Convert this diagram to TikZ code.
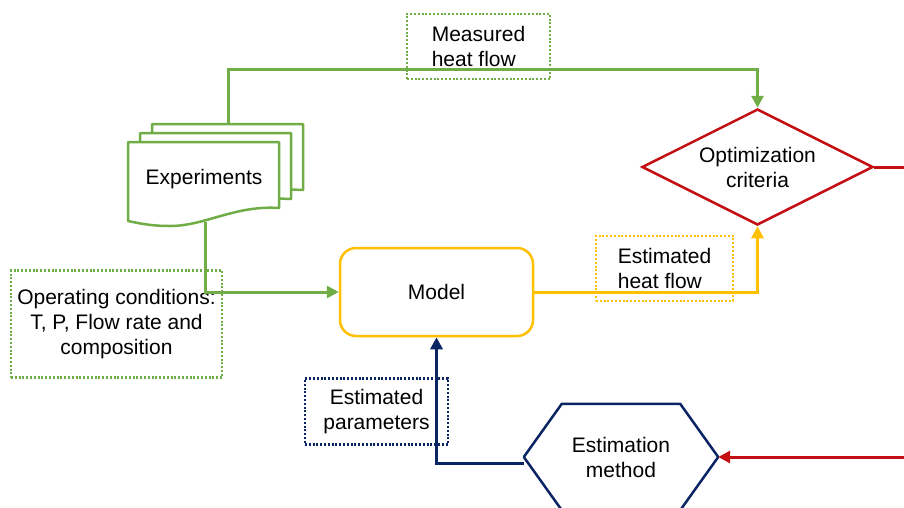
\documentclass[tikz,border=0pt]{standalone}
\usepackage{fontspec}
\setmainfont{Liberation Sans}
\usetikzlibrary{arrows.meta,shapes.geometric,calc}
\definecolor{flowgreen}{RGB}{112,173,71}
\definecolor{flowyellow}{RGB}{255,192,0}
\definecolor{flowred}{RGB}{196,16,20}
\definecolor{flownavy}{RGB}{10,36,100}
% one sheet of the stacked document symbol
\newcommand\docsheet[1]{%
  \draw[docpage,shift={#1}] (128,142) -- (279,142) -- (279,208)
    .. controls (235,205) and (205,226) .. (170,226)
    .. controls (150,226) and (138,223) .. (128,221) -- cycle;}
\begin{document}
\begin{tikzpicture}[x=1pt,y=-1pt,
  every node/.style={font=\fontsize{21}{25}\selectfont},
  wire/.style={line width=3pt, -{Triangle[length=12pt,width=12pt]}},
  tag/.style={draw, line width=2.2pt, dash pattern=on 2pt off 1.8pt, inner sep=0pt},
  docpage/.style={draw=flowgreen, line width=2.5pt, fill=white, line join=round}]
\useasboundingbox (0,0) rectangle (904,507);
\clip (0,0) rectangle (904,507);

% stacked experiment sheets
\docsheet{(24,-18)}
\docsheet{(12,-9)}
\docsheet{(0,0)}
\node (exp) at (204,179) {Experiments};
\coordinate (expTop) at (228,124);
\coordinate (expBot) at (205,222);

% dotted labels
\node[tag, draw=flowgreen, minimum width=143pt, minimum height=65pt, align=left] (meas) at (478.5,46.5) {Measured\\heat flow};
\node[tag, draw=flowgreen, minimum width=211pt, minimum height=107pt, align=center] (ops) at (116.5,324) {Operating conditions:\\T, P, Flow rate and\\composition};
\node[tag, draw=flowyellow, minimum width=137pt, minimum height=65pt, align=left] (ehf) at (664.5,268.5) {Estimated\\heat flow};
\node[tag, draw=flownavy, minimum width=143pt, minimum height=66pt, align=center] (epar) at (376.5,411.5) {Estimated\\parameters};

% main blocks
\node[draw=flowyellow, line width=2.5pt, rounded corners=16pt, minimum width=193pt, minimum height=88pt] (model) at (436.5,292) {Model};
\node[diamond, aspect=2, draw=flowred, line width=2.5pt, minimum width=231pt, minimum height=116pt, inner sep=0pt, align=center] (opt) at (757.5,167) {Optimization\\criteria};
\node[minimum width=194pt, minimum height=106pt, align=center] (hex) at (621,457) {Estimation\\method};
\draw[flownavy, line width=2.5pt, line join=round]
  (hex.west) -- ([xshift=38pt]hex.north west) -- ([xshift=-38pt]hex.north east)
  -- (hex.east) -- ([xshift=-38pt]hex.south east) -- ([xshift=38pt]hex.south west) -- cycle;

% connectors
\draw[wire, draw=flowgreen] (expTop) |- ([yshift=38pt]opt.north) -- (opt.north);
\draw[wire, draw=flowgreen] (expBot) |- (model.west);
\draw[wire, draw=flowyellow] (model.east) -| (opt.south);
\draw[wire, draw=flowred] (opt.east) -- ++(60,0) |- (hex.east);
\draw[wire, draw=flownavy] ([yshift=-6pt]hex.west) -| (model.south);
\end{tikzpicture}
\end{document}
